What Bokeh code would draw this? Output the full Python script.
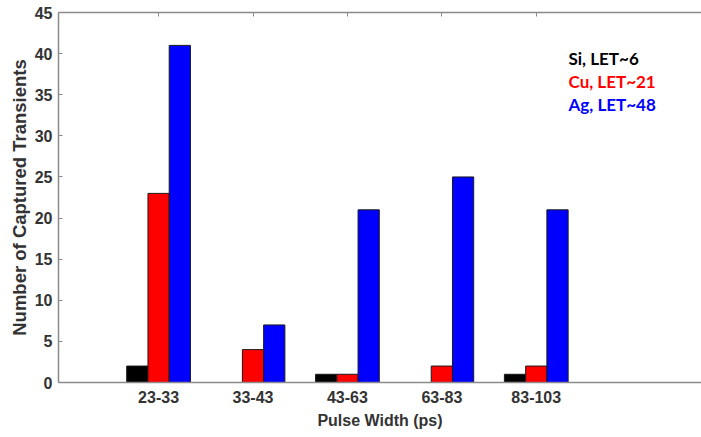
from bokeh.plotting import figure
from bokeh.models import ColumnDataSource, Range1d, FixedTicker, LinearAxis, Label
from bokeh.embed import file_html
from bokeh.resources import INLINE

categories = ["23-33", "33-43", "43-63", "63-83", "83-103"]
si_counts = [2, 0, 1, 0, 1]
cu_counts = [23, 4, 1, 2, 2]
ag_counts = [41, 7, 21, 25, 21]
series_names = ["Si, LET~6", "Cu, LET~21", "Ag, LET~48"]
series_colors = ["#000000", "#ff0000", "#0000ff"]
y_ticks = [0, 5, 10, 15, 20, 25, 30, 35, 40, 45]

positions = list(range(1, len(categories) + 1))
bar_w = 0.225
offsets = [-bar_w, 0.0, bar_w]

p = figure(width=701, height=437, output_backend="svg", toolbar_location=None,
           x_range=Range1d(-0.06, 6.75), y_range=Range1d(0, 45),
           min_border_left=58, min_border_top=12, min_border_bottom=55, min_border_right=0)
p.background_fill_color = "white"
p.border_fill_color = "white"
p.grid.visible = False
p.outline_line_color = None

for vals, col, off in zip([si_counts, cu_counts, ag_counts], series_colors, offsets):
    src = ColumnDataSource(dict(x=[q + off for q in positions], top=vals))
    p.vbar(x="x", top="top", bottom=0, width=bar_w, source=src,
           fill_color=col, line_color="#1a1a1a", line_width=1)

ax = p.xaxis[0]
ax.ticker = FixedTicker(ticks=positions)
ax.major_label_overrides = {q: c for q, c in zip(positions, categories)}
ax.axis_label = "Pulse Width (ps)"
ay = p.yaxis[0]
ay.ticker = FixedTicker(ticks=y_ticks)
ay.axis_label = "Number of Captured Transients"

for a in (ax, ay):
    a.axis_line_color = "#8a8a8a"
    a.axis_line_width = 1.5
    a.major_tick_out = 0
    a.major_tick_in = 4
    a.major_tick_line_color = "#8a8a8a"
    a.minor_tick_line_color = None
    a.major_label_text_font = "Liberation Sans"
    a.major_label_text_font_style = "bold"
    a.major_label_text_font_size = "16px"
    a.major_label_text_color = "#333333"
    a.axis_label_text_font = "Liberation Sans"
    a.axis_label_text_font_style = "bold"
    a.axis_label_text_color = "#333333"
ax.major_tick_in = 0
ax.major_label_standoff = 8
ax.axis_label_standoff = 6
ax.axis_label_text_font_size = "16px"
ay.major_label_standoff = 6
ay.axis_label_standoff = 2
ay.axis_label_text_font_size = "18.5px"

top = LinearAxis(ticker=FixedTicker(ticks=positions), major_label_text_font_size="0px",
                 axis_line_color="#8a8a8a", axis_line_width=1.5, major_tick_out=0, major_tick_in=4,
                 major_tick_line_color="#8a8a8a", minor_tick_line_color=None)
top.major_label_overrides = {q: "" for q in positions}
p.add_layout(top, "above")

legend_y = [324, 301, 278]
for name, col, yy in zip(series_names, series_colors, legend_y):
    p.add_layout(Label(x=510, y=yy, x_units="screen", y_units="screen", text=name,
                       text_color=col, text_font="Lato", text_font_style="bold",
                       text_font_size="17px", text_baseline="middle", text_align="left"))

open("out.html", "w").write(file_html(p, INLINE))
